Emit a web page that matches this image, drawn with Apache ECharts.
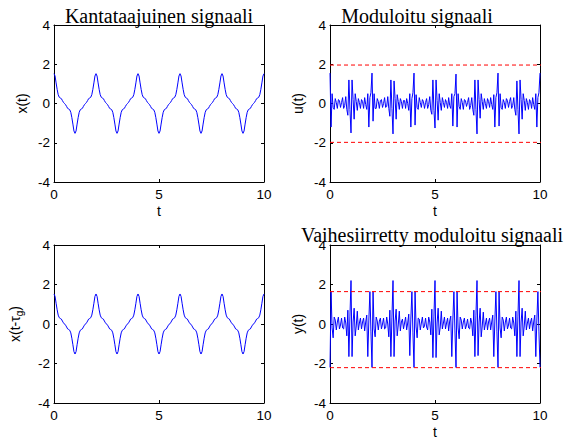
<!DOCTYPE html>
<html>
<head>
<meta charset="utf-8">
<script src="https://cdn.jsdelivr.net/npm/echarts@6/dist/echarts.min.js"></script>
<style>
  html, body { margin: 0; padding: 0; background: #fff; }
  #chart { width: 574px; height: 440px; }
</style>
</head>
<body>
<div id="chart"></div>
<script>
// sample spacing of the signals (t units)
const sampleStep = 0.05;
const tTicks = [0, 5, 10];
const vTicks = [-4, -2, 0, 2, 4];

// baseband signal x(t)
const xSignal = [
  1.52, 1.40, 1.05, 0.72, 0.45, 0.32, 0.28, 0.25, 0.15, 0.06, 0.00, -0.06, -0.15, -0.25, -0.28, -0.32, -0.45, -0.72, -1.05, -1.40,
  -1.52, -1.40, -1.05, -0.72, -0.45, -0.32, -0.28, -0.25, -0.15, -0.06, 0.00, 0.06, 0.15, 0.25, 0.28, 0.32, 0.45, 0.72, 1.05, 1.40,
  1.52, 1.40, 1.05, 0.72, 0.45, 0.32, 0.28, 0.25, 0.15, 0.06, 0.00, -0.06, -0.15, -0.25, -0.28, -0.32, -0.45, -0.72, -1.05, -1.40,
  -1.52, -1.40, -1.05, -0.72, -0.45, -0.32, -0.28, -0.25, -0.15, -0.06, 0.00, 0.06, 0.15, 0.25, 0.28, 0.32, 0.45, 0.72, 1.05, 1.40,
  1.52, 1.40, 1.05, 0.72, 0.45, 0.32, 0.28, 0.25, 0.15, 0.06, 0.00, -0.06, -0.15, -0.25, -0.28, -0.32, -0.45, -0.72, -1.05, -1.40,
  -1.52, -1.40, -1.05, -0.72, -0.45, -0.32, -0.28, -0.25, -0.15, -0.06, 0.00, 0.06, 0.15, 0.25, 0.28, 0.32, 0.45, 0.72, 1.05, 1.40,
  1.52, 1.40, 1.05, 0.72, 0.45, 0.32, 0.28, 0.25, 0.15, 0.06, 0.00, -0.06, -0.15, -0.25, -0.28, -0.32, -0.45, -0.72, -1.05, -1.40,
  -1.52, -1.40, -1.05, -0.72, -0.45, -0.32, -0.28, -0.25, -0.15, -0.06, 0.00, 0.06, 0.15, 0.25, 0.28, 0.32, 0.45, 0.72, 1.05, 1.40,
  1.52, 1.40, 1.05, 0.72, 0.45, 0.32, 0.28, 0.25, 0.15, 0.06, 0.00, -0.06, -0.15, -0.25, -0.28, -0.32, -0.45, -0.72, -1.05, -1.40,
  -1.52, -1.40, -1.05, -0.72, -0.45, -0.32, -0.28, -0.25, -0.15, -0.06, 0.00, 0.06, 0.15, 0.25, 0.28, 0.32, 0.45, 0.72, 1.05, 1.40,
  1.52
];

// delayed baseband x(t - tau_g) looks the same in the picture
const xDelayed = xSignal.slice();

// modulated signal u(t)
const uSignal = [
  1.55, -1.20, 0.50, -0.20, -0.30, 0.25, 0.05, -0.25, 0.20, 0.15, -0.20, 0.05, 0.30, -0.25, -0.10, 0.35, -0.30, -0.60, 1.20, -0.30,
  -1.50, 1.20, 0.20, -0.80, 0.50, 0.10, -0.35, 0.25, 0.05, -0.25, 0.20, 0.10, -0.25, 0.30, -0.05, -0.30, 0.50, -1.20, 0.30, 0.55,
  1.55, -0.90, 0.50, -0.25, -0.25, 0.25, 0.10, -0.25, 0.15, 0.20, -0.20, 0.00, 0.30, -0.20, -0.15, 0.35, -0.25, -0.65, 1.20, -0.25,
  -1.55, 1.15, 0.25, -0.80, 0.45, 0.10, -0.30, 0.25, 0.10, -0.25, 0.15, 0.15, -0.25, 0.25, 0.00, -0.35, 0.50, -1.20, 0.25, 0.55,
  1.55, -1.10, 0.45, -0.20, -0.30, 0.30, 0.05, -0.20, 0.20, 0.10, -0.25, 0.05, 0.25, -0.25, -0.05, 0.35, -0.35, -0.55, 1.20, -0.35,
  -1.25, 1.20, 0.15, -0.85, 0.50, 0.05, -0.35, 0.30, 0.05, -0.20, 0.20, 0.05, -0.25, 0.30, -0.10, -0.25, 0.50, -1.15, 0.35, 0.50,
  1.50, -1.20, 0.50, -0.15, -0.30, 0.25, 0.05, -0.30, 0.20, 0.15, -0.15, 0.05, 0.30, -0.30, -0.10, 0.30, -0.30, -0.60, 1.20, -0.30,
  -1.55, 1.20, 0.20, -0.75, 0.50, 0.10, -0.30, 0.25, 0.00, -0.25, 0.25, 0.10, -0.20, 0.30, -0.05, -0.30, 0.45, -1.20, 0.30, 0.55,
  1.55, -1.15, 0.50, -0.20, -0.30, 0.20, 0.05, -0.25, 0.25, 0.15, -0.20, 0.10, 0.30, -0.25, -0.10, 0.30, -0.30, -0.60, 1.15, -0.30,
  -1.55, 1.20, 0.20, -0.80, 0.50, 0.15, -0.35, 0.25, 0.05, -0.30, 0.20, 0.10, -0.25, 0.30, -0.05, -0.30, 0.50, -1.20, 0.30, 0.55,
  1.55
];

// phase shifted modulated signal y(t)
const ySignal = [
  -2.20, 1.64, -0.20, -0.70, 0.35, 0.20, -0.30, 0.10, 0.35, -0.25, -0.05, 0.30, -0.20, -0.25, 0.35, 0.05, -0.60, 0.70, -1.65, 0.40,
  2.20, -1.65, 0.10, 0.80, -0.60, -0.10, 0.65, -0.30, 0.05, 0.30, -0.25, 0.10, 0.30, -0.35, 0.10, 0.45, -1.65, 0.20, 1.64, -0.40,
  -2.20, 1.64, -0.25, -0.65, 0.35, 0.15, -0.30, 0.15, 0.30, -0.25, 0.00, 0.30, -0.25, -0.20, 0.35, 0.00, -0.65, 0.70, -1.65, 0.35,
  2.20, -1.65, 0.15, 0.75, -0.60, -0.05, 0.65, -0.35, 0.10, 0.25, -0.25, 0.05, 0.35, -0.30, 0.05, 0.50, -1.60, 0.25, 1.64, -0.45,
  -2.20, 1.64, -0.15, -0.70, 0.30, 0.25, -0.30, 0.05, 0.35, -0.20, -0.10, 0.30, -0.15, -0.30, 0.35, 0.10, -0.55, 0.75, -1.70, 0.40,
  2.20, -1.70, 0.05, 0.80, -0.55, -0.15, 0.65, -0.25, 0.05, 0.35, -0.25, 0.05, 0.30, -0.35, 0.15, 0.40, -1.65, 0.20, 1.64, -0.35,
  -2.20, 1.64, -0.20, -0.75, 0.35, 0.20, -0.25, 0.10, 0.30, -0.25, -0.05, 0.25, -0.20, -0.25, 0.30, 0.05, -0.60, 0.70, -1.65, 0.45,
  2.20, -1.60, 0.10, 0.80, -0.65, -0.10, 0.60, -0.30, 0.00, 0.30, -0.30, 0.10, 0.30, -0.30, 0.10, 0.45, -1.65, 0.15, 1.64, -0.40,
  -2.20, 1.64, -0.20, -0.70, 0.35, 0.20, -0.35, 0.10, 0.35, -0.25, -0.05, 0.30, -0.20, -0.25, 0.35, 0.05, -0.60, 0.65, -1.65, 0.40,
  2.20, -1.65, 0.10, 0.80, -0.60, -0.10, 0.65, -0.30, 0.05, 0.30, -0.25, 0.10, 0.30, -0.35, 0.10, 0.45, -1.65, 0.20, 1.64, -0.40,
  -2.20
];

// red dashed reference levels
const uLimits = [1.96, -1.98];
const yLimits = [1.64, -2.21];
const limitSpan = [0, 10.3];

const titles = ['Kantataajuinen signaali', 'Moduloitu signaali', '', 'Vaihesiirretty moduloitu signaali'];
const yNames = ['x(t)', 'u(t)', '{a|x(t-τ}{s|g}{a|)}', 'y(t)'];
const xNames = ['t', 't', '', 't'];

const chart = echarts.init(document.getElementById('chart'), null, { renderer: 'svg' });

const labelFont = 'Liberation Sans, Arial, sans-serif';
const grids = [
  { left: 54, top: 25, width: 210, height: 157 },
  { left: 330, top: 25, width: 210, height: 157 },
  { left: 54, top: 245, width: 210, height: 158 },
  { left: 330, top: 245, width: 210, height: 158 }
];
const titlePos = [[159, 16], [417, 16], null, [432, 235]];

const black = { color: '#000', width: 1 };
const xAxes = [];
const yAxes = [];
grids.forEach((g, i) => {
  const xBase = {
    type: 'value', gridIndex: i,
    min: tTicks[0], max: tTicks[tTicks.length - 1], interval: tTicks[1] - tTicks[0],
    axisLine: { show: true, lineStyle: black, onZero: false },
    axisTick: { show: true, inside: true, length: 3, lineStyle: black },
    splitLine: { show: false }
  };
  xAxes.push(Object.assign({}, xBase, {
    position: 'bottom',
    name: xNames[i], nameLocation: 'middle', nameGap: 22,
    nameTextStyle: { fontFamily: labelFont, fontSize: 14, color: '#000' },
    axisLabel: { fontFamily: labelFont, fontSize: 13.5, color: '#000', margin: 5 }
  }));
  xAxes.push(Object.assign({}, xBase, { position: 'top', axisLabel: { show: false } }));

  const yBase = {
    type: 'value', gridIndex: i,
    min: vTicks[0], max: vTicks[vTicks.length - 1], interval: vTicks[1] - vTicks[0],
    axisLine: { show: true, lineStyle: black, onZero: false },
    axisTick: { show: true, inside: true, length: 3, lineStyle: black },
    splitLine: { show: false }
  };
  yAxes.push(Object.assign({}, yBase, {
    position: 'left',
    name: yNames[i], nameLocation: 'middle', nameRotate: 90,
    nameGap: i === 2 ? 30 : 25,
    nameTextStyle: {
      fontFamily: labelFont, fontSize: 14, color: '#000',
      rich: {
        a: { fontFamily: labelFont, fontSize: 14, color: '#000' },
        s: { fontFamily: labelFont, fontSize: 10, color: '#000', padding: [8, 0, 0, 0] }
      }
    },
    axisLabel: { fontFamily: labelFont, fontSize: 13.5, color: '#000', margin: 4 }
  }));
  yAxes.push(Object.assign({}, yBase, { position: 'right', axisLabel: { show: false } }));
});

function pairs(vals) {
  return vals.map((v, k) => [k * sampleStep, v]);
}

function signalSeries(i, vals) {
  return {
    type: 'line', xAxisIndex: 2 * i, yAxisIndex: 2 * i,
    data: pairs(vals), showSymbol: false, symbol: 'none',
    lineStyle: { color: '#0000ff', width: 1 }, silent: true
  };
}

function limitSeries(i, level) {
  return {
    type: 'line', xAxisIndex: 2 * i, yAxisIndex: 2 * i, clip: false,
    data: limitSpan.map((t) => [t, level]), showSymbol: false, symbol: 'none',
    lineStyle: { color: '#ff0000', width: 1, type: [4, 3] }, silent: true, z: 3
  };
}

const series = [
  signalSeries(0, xSignal),
  signalSeries(1, uSignal),
  signalSeries(2, xDelayed),
  signalSeries(3, ySignal),
  limitSeries(1, uLimits[0]), limitSeries(1, uLimits[1]),
  limitSeries(3, yLimits[0]), limitSeries(3, yLimits[1])
];

const graphic = [];
titles.forEach((text, i) => {
  if (!text) return;
  graphic.push({
    type: 'text', x: titlePos[i][0], y: titlePos[i][1], z: 10,
    style: {
      text: text, fill: '#000',
      font: '20px "Liberation Serif", "Times New Roman", serif',
      textAlign: 'center', textVerticalAlign: 'middle'
    }
  });
});

chart.setOption({
  animation: false,
  backgroundColor: '#fff',
  grid: grids.map((g) => Object.assign({ containLabel: false }, g)),
  xAxis: xAxes,
  yAxis: yAxes,
  series: series,
  graphic: graphic
});
</script>
</body>
</html>
